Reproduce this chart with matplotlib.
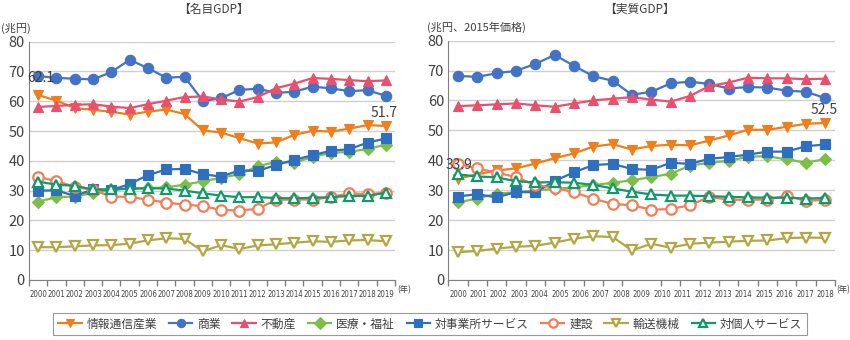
import numpy as np
import matplotlib
matplotlib.use('Agg')
import matplotlib.pyplot as plt
from matplotlib.ticker import FixedLocator

plt.rcParams['font.family'] = ['Noto Sans CJK JP', 'DejaVu Sans']

# series names (legend order)
series_names = ['情報通信産業', '商業', '不動産', '医療・福祉', '対事業所サービス', '建設', '輸送機械', '対個人サービス']

# nominal GDP, 2000-2019 (trillion yen)
nominal_years = [str(y) for y in range(2000, 2020)]
nom_ict = [62.1, 60.2, 57.7, 57.1, 56.5, 55.5, 56.5, 57.2, 55.7, 50.2, 49.5, 47.6, 45.8, 46.2, 48.7, 50.1, 49.8, 50.8, 52.0, 51.7]
nom_commerce = [68.5, 67.8, 67.6, 67.3, 69.8, 73.9, 71.1, 67.9, 68.2, 60.1, 61.0, 63.8, 64.2, 62.8, 63.2, 64.9, 64.3, 63.4, 63.7, 61.8]
nom_realestate = [58.1, 58.4, 58.8, 59.0, 58.2, 57.7, 59.0, 60.2, 61.4, 61.6, 60.6, 59.9, 61.4, 64.4, 65.9, 67.8, 67.5, 67.1, 66.7, 67.0]
nom_health = [26.3, 27.8, 28.0, 29.3, 30.2, 30.8, 30.8, 31.1, 32.0, 33.1, 34.3, 35.5, 38.2, 39.6, 39.4, 41.3, 42.7, 43.0, 44.0, 45.4]
nom_business = [30.0, 30.1, 28.2, 30.4, 30.2, 32.2, 35.2, 37.1, 37.3, 35.5, 34.7, 36.8, 36.6, 38.6, 40.3, 41.9, 43.4, 43.9, 46.1, 47.5]
nom_construction = [34.6, 33.2, 31.3, 30.2, 28.0, 27.9, 26.9, 26.0, 25.3, 24.8, 23.5, 23.3, 23.9, 26.9, 27.0, 27.0, 27.8, 29.1, 28.8, 29.3]
nom_transport = [11.0, 11.0, 11.3, 11.6, 11.7, 12.2, 13.3, 14.0, 13.8, 9.6, 11.7, 10.4, 11.6, 12.0, 12.5, 13.0, 12.8, 13.3, 13.4, 13.0]
nom_personal = [33.0, 32.0, 31.6, 30.4, 30.4, 30.6, 30.8, 30.7, 30.0, 29.1, 28.3, 27.8, 27.8, 27.5, 27.4, 27.6, 27.8, 28.2, 28.2, 29.3]

# real GDP (2015 prices)
real_years = [str(y) for y in range(2000, 2019)]
real_ict = [33.9, 35.3, 36.6, 37.3, 38.9, 40.7, 42.3, 44.6, 45.4, 43.6, 44.8, 45.2, 45.0, 46.6, 48.3, 50.2, 50.2, 51.2, 52.2, 52.5]
real_commerce = [68.2, 67.9, 69.1, 69.9, 72.2, 75.2, 71.6, 68.1, 66.6, 61.9, 62.9, 65.7, 66.3, 65.5, 64.0, 64.5, 64.3, 63.3, 62.9, 60.8]
real_realestate = [58.1, 58.4, 58.7, 59.0, 58.4, 57.9, 59.0, 60.0, 60.6, 61.1, 60.3, 59.6, 61.5, 64.8, 66.0, 67.6, 67.4, 67.4, 67.1, 67.3]
real_health = [26.0, 27.2, 28.9, 29.3, 30.0, 30.4, 31.0, 31.7, 32.5, 33.3, 34.4, 35.5, 38.2, 39.2, 39.8, 41.2, 41.4, 40.3, 39.2, 40.4]
real_business = [27.9, 28.7, 27.6, 29.4, 29.3, 33.1, 36.0, 38.4, 38.8, 37.1, 36.8, 39.2, 38.8, 40.5, 41.1, 41.9, 42.9, 42.9, 44.7, 45.3]
real_construction = [38.8, 37.3, 35.9, 34.4, 31.7, 30.9, 29.3, 27.2, 25.4, 25.0, 23.5, 23.7, 25.0, 27.8, 26.8, 26.8, 26.9, 28.2, 26.5, 26.7]
real_transport = [9.3, 9.7, 10.5, 11.1, 11.4, 12.5, 13.8, 14.6, 14.4, 9.9, 12.1, 10.8, 12.1, 12.5, 12.8, 13.1, 13.2, 14.0, 14.2, 14.1]
real_personal = [35.3, 34.6, 34.3, 33.0, 32.6, 32.7, 32.5, 31.8, 30.6, 29.5, 28.6, 28.2, 28.2, 28.0, 27.8, 27.6, 27.5, 27.5, 27.2, 27.4]

colors = ['#EE7F1A', '#4472C4', '#E8506E', '#7DBE48', '#2E6FC0', '#F17E58', '#B3A744', '#12996B']
markers = ['v', 'o', '^', 'D', 's', 'o', 'v', '^']
hollow = [False, False, False, False, False, True, True, True]
msizes = [7.5, 7.5, 7.5, 6.5, 6.5, 7.5, 7.5, 7.5]

txt = '#404040'


def draw_panel(ax, data, labels, label_pos):
    x = np.arange(len(data[0]))
    lines = []
    for i, vals in enumerate(data):
        fc = 'white' if hollow[i] else colors[i]
        ln, = ax.plot(x, vals, color=colors[i], lw=1.6, marker=markers[i],
                      ms=msizes[i], mfc=fc, mec=colors[i], mew=1.6 if hollow[i] else 0.8,
                      label=series_names[i])
        lines.append(ln)
    ax.set_xlim(-0.5, len(x) - 0.5)
    ax.set_ylim(0, 80)
    ax.set_yticks(range(0, 81, 10))
    ax.yaxis.grid(True, color='#d0d0d0', lw=1.0)
    ax.set_axisbelow(True)
    for s in ['top', 'right']:
        ax.spines[s].set_visible(False)
    ax.spines['left'].set_color('#808080')
    ax.spines['bottom'].set_color('#808080')
    ax.tick_params(axis='y', length=0, labelsize=10.5, labelcolor=txt, pad=3)
    ax.set_xticks(label_pos)
    ax.set_xticklabels(labels, fontsize=5.6, color=txt, family='DejaVu Sans',
                       fontstretch='condensed')
    ax.tick_params(axis='x', which='major', length=0, pad=7)
    ax.xaxis.set_minor_locator(FixedLocator(np.arange(-0.5, len(x) + 0.5, 1)))
    ax.tick_params(axis='x', which='minor', length=4, color='#808080', width=1)
    return lines


fig = plt.figure(figsize=(8.5, 3.4), dpi=100)
ax1 = fig.add_axes([0.0341, 0.1765, 0.4306, 0.701])
ax2 = fig.add_axes([0.5274, 0.1765, 0.4549, 0.704])

nom_data = [nom_ict, nom_commerce, nom_realestate, nom_health, nom_business,
            nom_construction, nom_transport, nom_personal]
real_data = [real_ict, real_commerce, real_realestate, real_health, real_business,
             real_construction, real_transport, real_personal]

lines = draw_panel(ax1, nom_data, nominal_years, np.arange(len(nominal_years)))
draw_panel(ax2, real_data, real_years, np.linspace(0, len(real_ict) - 1, len(real_years)))

# titles, units and year markers
fig.text(213 / 850, 1 - 9 / 340, '【名目GDP】', fontsize=8.5, color=txt, ha='center', va='center')
fig.text(640 / 850, 1 - 9 / 340, '【実質GDP】', fontsize=8.5, color=txt, ha='center', va='center')
fig.text(0.001, 1 - 28 / 340, '(兆円)', fontsize=8, color=txt, ha='left', va='center')
fig.text(427 / 850, 1 - 27 / 340, '(兆円、2015年価格)', fontsize=8, color=txt, ha='left', va='center')
fig.text(397 / 850, 1 - 290 / 340, '(年)', fontsize=6, color=txt, ha='left', va='center')
fig.text(836 / 850, 1 - 290 / 340, '(年)', fontsize=6, color=txt, ha='left', va='center')

# value labels on first/last points of ICT series
ax1.annotate(f'{nom_ict[0]}', (0, nom_ict[0]), xytext=(2, 7), textcoords='offset points',
             ha='center', va='bottom', fontsize=10, color=txt)
ax1.annotate(f'{nom_ict[-1]}', (len(nom_ict) - 1, nom_ict[-1]), xytext=(-1, 4),
             textcoords='offset points', ha='center', va='bottom', fontsize=10, color=txt)
ax2.annotate(f'{real_ict[0]}', (0, real_ict[0]), xytext=(1, 5), textcoords='offset points',
             ha='center', va='bottom', fontsize=10, color=txt)
ax2.annotate(f'{real_ict[-1]}', (len(real_ict) - 1, real_ict[-1]), xytext=(-1, 4),
             textcoords='offset points', ha='center', va='bottom', fontsize=10, color=txt)

leg = fig.legend(handles=lines, loc='center', bbox_to_anchor=(0.506, 0.047), ncol=8,
                 fontsize=8.5, frameon=True, fancybox=False, edgecolor='#808080',
                 handlelength=2.0, handletextpad=0.4, columnspacing=1.0,
                 borderpad=0.4, labelcolor=txt)
leg.get_frame().set_linewidth(0.8)
for h in leg.legend_handles:
    h.set_markersize(6)

fig.savefig('out.png', dpi=100)
